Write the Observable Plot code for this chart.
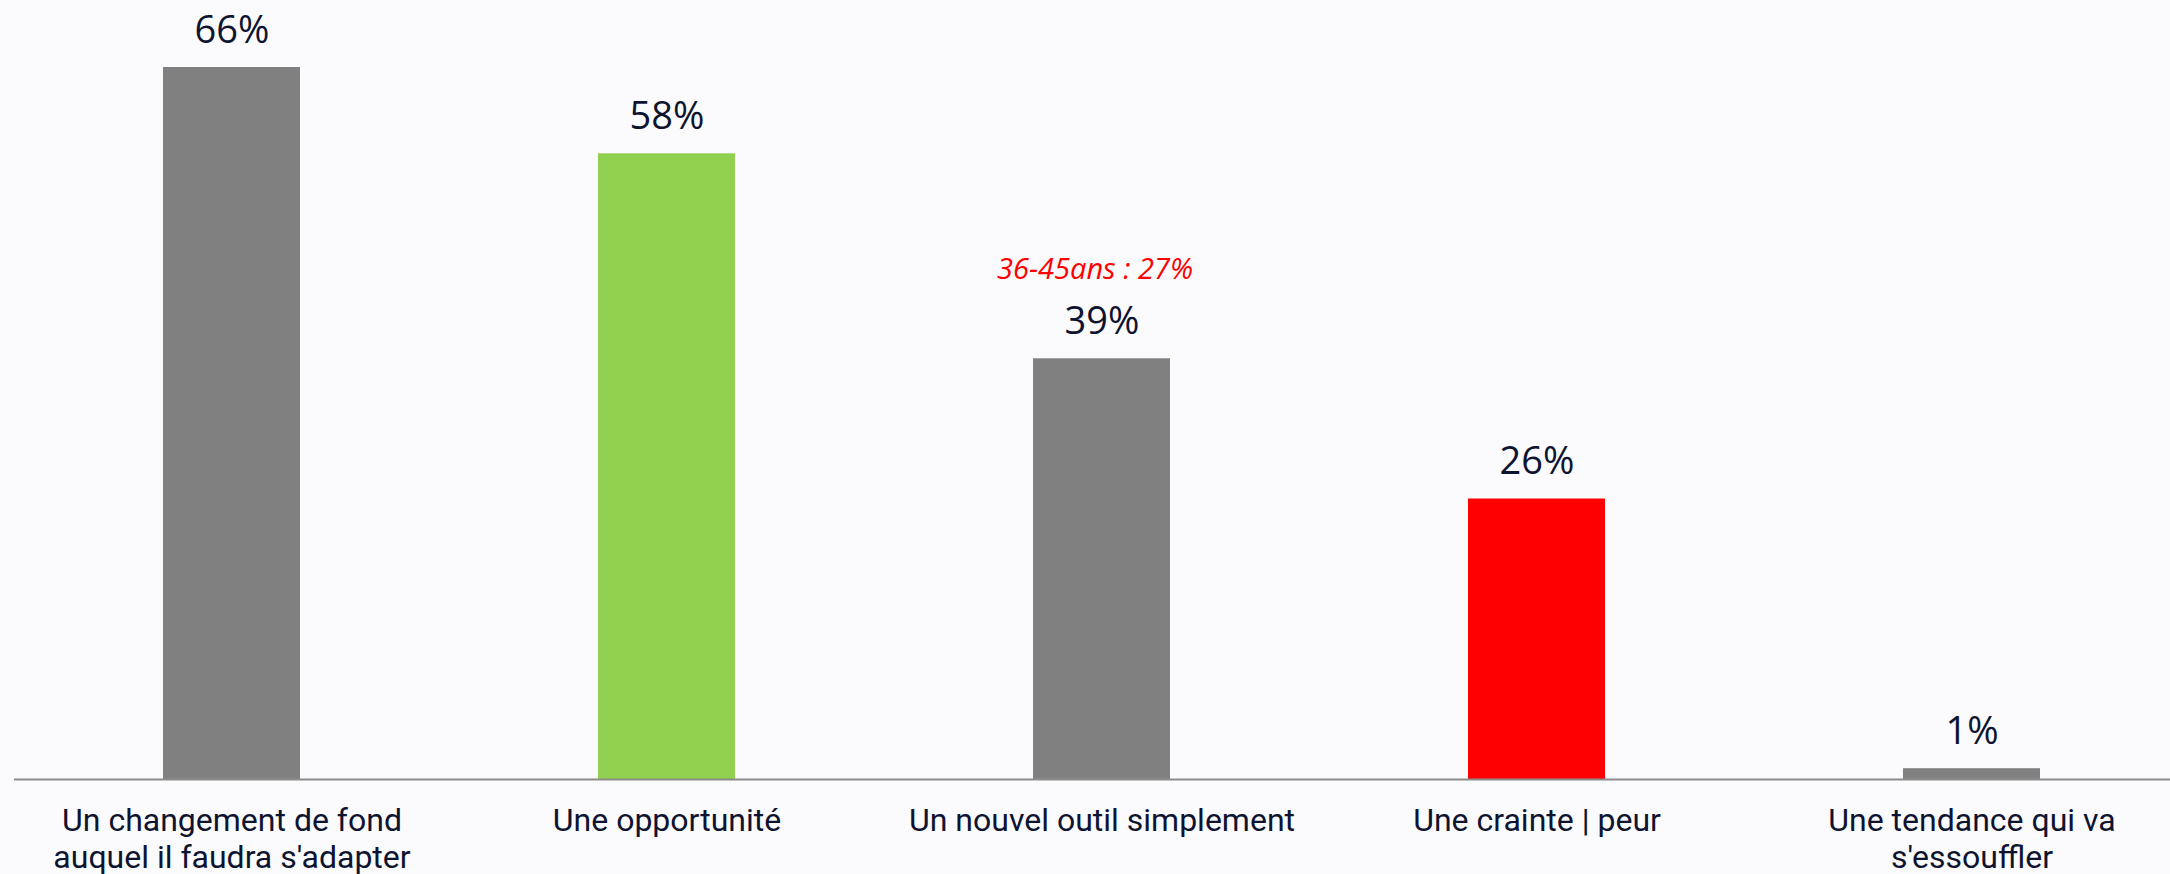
<!DOCTYPE html>
<html>
<head>
<meta charset="utf-8">
<script src="https://cdn.jsdelivr.net/npm/d3@7"></script>
<script src="https://cdn.jsdelivr.net/npm/@observablehq/plot@0.6"></script>
<style>
  html, body { margin: 0; padding: 0; background: #fbfbfd; overflow: hidden; }
  #chart svg { display: block; }
</style>
</head>
<body>
<div id="chart"></div>
<script>
const categories = [
  "Un changement de fond\nauquel il faudra s'adapter",
  "Une opportunité",
  "Un nouvel outil simplement",
  "Une crainte | peur",
  "Une tendance qui va\ns'essouffler"
];
const values = [66, 58, 39, 26, 1];
const barColors = ["#808080", "#92D050", "#808080", "#FF0000", "#808080"];
const notes = [{category: categories[2], value: 39, text: "36-45ans : 27%"}];

const data = categories.map((c, i) => ({category: c, value: values[i], color: barColors[i]}));
const textColor = "#0e1430";

const chart = Plot.plot({
  width: 2170,
  height: 874,
  marginTop: 67,
  marginBottom: 95,
  marginLeft: 14,
  marginRight: 0,
  style: {background: "#fbfbfd"},
  x: {domain: categories, range: [14, 2190], paddingInner: 0.685, paddingOuter: 0.342, axis: null},
  y: {domain: [0, 66], axis: null},
  marks: [
    Plot.barY(data, {x: "category", y: "value", fill: "color"}),
    Plot.ruleY([0], {stroke: "#8c8c8c", strokeWidth: 2}),
    Plot.text(data, {
      x: "category", y: "value", text: d => d.value + "%",
      lineAnchor: "bottom", dy: -25, fontSize: 38,
      fontFamily: "'Open Sans', sans-serif", fill: textColor
    }),
    Plot.text(data, {
      x: "category", y: 0, text: "category",
      lineAnchor: "top", dy: 25, fontSize: 32, lineHeight: 1.16,
      fontFamily: "Roboto, sans-serif", fill: textColor
    }),
    Plot.text(notes, {
      x: "category", y: "value", text: "text",
      lineAnchor: "bottom", dy: -80, dx: -7, fontSize: 29, fontStyle: "italic",
      fontFamily: "'Open Sans', sans-serif", fill: "#FF0000"
    })
  ]
});
document.getElementById("chart").appendChild(chart);
</script>
</body>
</html>
